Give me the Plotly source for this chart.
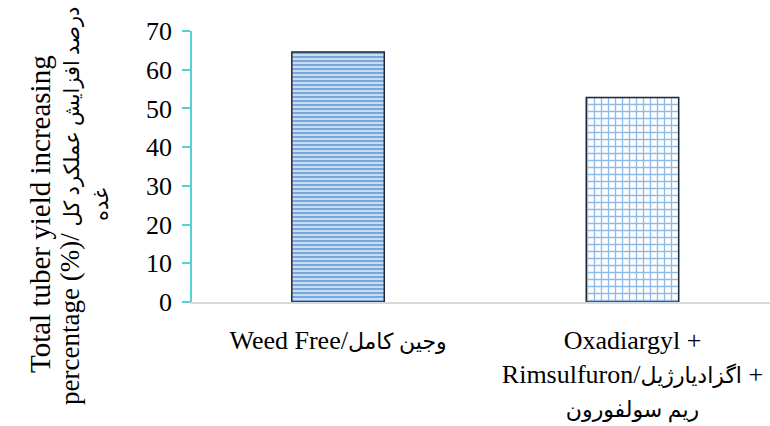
import plotly.graph_objects as go

FA = '<span style="font-size:22px">{}</span>'
FA_T = '<span style="font-size:21px">{}</span>'

categories = ["Weed Free/" + FA.format("وجین کامل"),
              "Oxadiargyl +<br>Rimsulfuron/" + FA.format("اگزادیارژیل") + " +<br>" + FA.format("ریم سولفورون")]
values = [64.6, 52.8]
y_ticks = [0, 10, 20, 30, 40, 50, 60, 70]
y_title_lines = ["Total tuber yield increasing",
                 "percentage (%)/ " + FA_T.format("درصد افزایش عملکرد کل"),
                 FA_T.format("غده")]

FONT = "Liberation Serif, Times New Roman, DejaVu Sans, serif"

fig = go.Figure()
fig.add_trace(go.Bar(
    x=[categories[0]], y=[values[0]], width=0.314,
    marker=dict(
        color="#c5dbf1",
        line=dict(color="#1f2a36", width=1.5),
        pattern=dict(shape="-", fgcolor="#78a7dc", bgcolor="#c8ddf2",
                     size=4, solidity=0.5, fillmode="replace"),
    ),
    showlegend=False, hoverinfo="skip",
))
fig.add_trace(go.Bar(
    x=[categories[1]], y=[values[1]], width=0.314,
    marker=dict(
        color="#ffffff",
        line=dict(color="#1f2a36", width=1.5),
        pattern=dict(shape="+", fgcolor="#8fbbe8", bgcolor="#ffffff",
                     size=7, solidity=0.35, fillmode="replace"),
    ),
    showlegend=False, hoverinfo="skip",
))

fig.update_layout(
    width=770, height=426,
    margin=dict(l=192, r=0, t=31, b=124),
    paper_bgcolor="white", plot_bgcolor="white",
    font=dict(family=FONT, size=26, color="#000000"),
    barmode="overlay",
)
fig.update_xaxes(
    categoryorder="array", categoryarray=categories,
    range=[-0.496, 1.467], showgrid=False, zeroline=False, automargin=False,
    showline=True, linecolor="#d9d9d9", linewidth=2,
    ticks="", tickfont=dict(size=26), ticklabelstandoff=14,
)
fig.update_yaxes(
    range=[0, 70], tickvals=y_ticks, showgrid=False, zeroline=False, automargin=False,
    showline=True, linecolor="#56cfd6", linewidth=1.5,
    ticks="outside", ticklen=8, tickcolor="#56cfd6", tickwidth=1.5,
    tickfont=dict(size=26), ticklabelstandoff=5,
)
title_pos = [(40, 214, 29), (70, 206, 27), (101, 205, 27)]
for line, (px, py, fs) in zip(y_title_lines, title_pos):
    fig.add_annotation(
        text=line, textangle=-90, xref="paper", yref="paper",
        x=(px - 192) / 578, y=(302 - py) / 271, xanchor="center", yanchor="middle",
        showarrow=False, font=dict(family=FONT, size=fs, color="#000000"),
    )
fig.write_html("out.html", config={"displayModeBar": False},
               post_script="document.body.style.margin='0';")
